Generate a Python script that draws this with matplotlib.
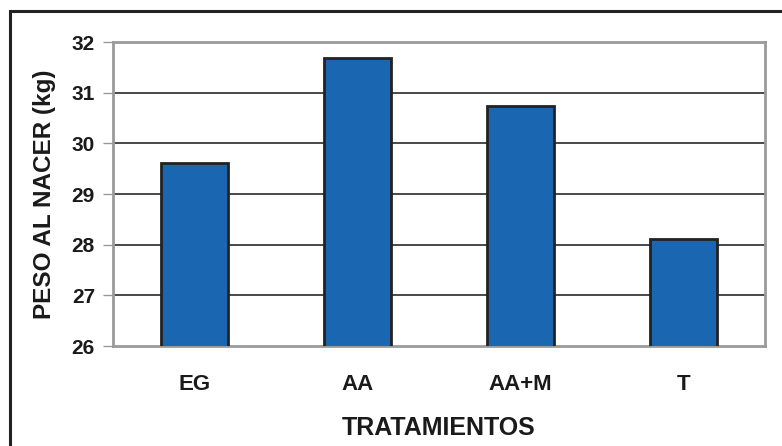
import matplotlib
matplotlib.use("Agg")
import matplotlib.pyplot as plt
from matplotlib.patches import Rectangle

categories = ["EG", "AA", "AA+M", "T"]
peso = [29.62, 31.68, 30.73, 28.11]
yticks = [26, 27, 28, 29, 30, 31, 32]

plt.rcParams['font.family'] = ['Liberation Sans', 'DejaVu Sans']
plt.rcParams['font.weight'] = 'bold'

fig = plt.figure(figsize=(7.82, 4.46), dpi=100)
ax = fig.add_axes([113 / 782, 100 / 446, 652 / 782, 304 / 446])

# outer frame (open at the right and bottom edges)
fig.add_artist(Rectangle((10 / 782, -0.1), 1.2, (446 - 11) / 446 + 0.1,
                         transform=fig.transFigure, fill=False,
                         edgecolor="#222222", linewidth=2.2))

ax.bar(categories, peso, width=0.405, color="#1b66b1",
       edgecolor="#222222", linewidth=2, zorder=3)

ax.set_ylim(26, 32)
ax.set_xlim(-0.5, 3.5)
ax.set_yticks(yticks)
for y in yticks[1:-1]:
    ax.axhline(y, color="#2a2a2a", linewidth=1.2, zorder=1)

for side in ["left", "right", "top", "bottom"]:
    ax.spines[side].set_color("#9a9a9a")
    ax.spines[side].set_linewidth(2)

ax.tick_params(axis="y", length=7, width=1, color="#9a9a9a",
               labelsize=15, pad=6, labelcolor="#1a1a1a")
ax.tick_params(axis="x", length=0, labelsize=16, pad=20, labelcolor="#1a1a1a")

ax.set_ylabel("PESO AL NACER (kg)", fontsize=17.5, fontweight="bold",
              color="#1a1a1a", labelpad=11)
ax.set_xlabel("TRATAMIENTOS", fontsize=18, fontweight="bold",
              color="#1a1a1a", labelpad=15)

fig.savefig("out.png", dpi=100)
